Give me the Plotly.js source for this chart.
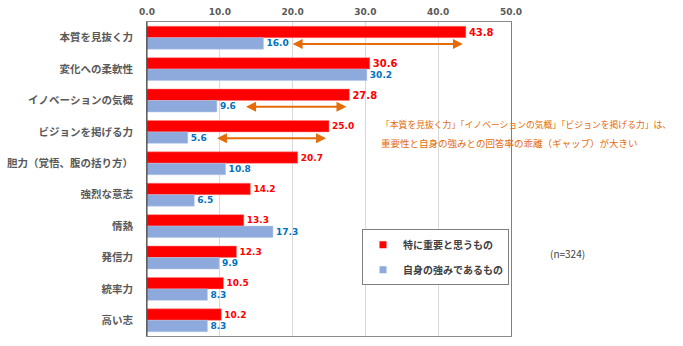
<!DOCTYPE html>
<html><head><meta charset="utf-8">
<script src="https://cdn.plot.ly/plotly-3.0.1.min.js"></script>
<style>html,body{margin:0;padding:0;background:#fff}#c{width:683px;height:346px}</style>
</head><body><div id="c"></div>
<script>
const categories = ['本質を見抜く力','変化への柔軟性','イノベーションの気概','ビジョンを掲げる力','胆力（覚悟、腹の括り方）','強烈な意志','情熱','発信力','統率力','高い志'];
const importantValues = [43.8,30.6,27.8,25.0,20.7,14.2,13.3,12.3,10.5,10.2];
const strengthValues = [16.0,30.2,9.6,5.6,10.8,6.5,17.3,9.9,8.3,8.3];
const seriesNames = ['特に重要と思うもの','自身の強みであるもの'];
const gapItems = ['本質を見抜く力','イノベーションの気概','ビジョンを掲げる力'];
const xTicks = [0,10,20,30,40,50];
const noteLines = ['「本質を見抜く力」「イノベーションの気概」「ビジョンを掲げる力」は、','重要性と自身の強みとの回答率の乖離（ギャップ）が大きい'];
const sampleNote = '(n=324)';

const RED = '#FF0000', BLUE = '#8EA9DB', ORANGE = '#E46C0A';
const jp = '"Noto Sans CJK JP", "Noto Sans", sans-serif';
const num = '"DejaVu Sans", Verdana, sans-serif';

const redSizes = importantValues.map((v,i)=> i<3 ? 10.5 : 9);

const traces = [
  {type:'bar', orientation:'h', y:categories, x:importantValues, name:seriesNames[0], showlegend:false,
   marker:{color:RED, line:{color:'#FF8080', width:0.5}},
   text:importantValues.map(v=>v.toFixed(1)), textposition:'outside', cliponaxis:false,
   textfont:{family:num, size:redSizes, color:RED, weight:'bold'}, hoverinfo:'skip'},
  {type:'bar', orientation:'h', y:categories, x:strengthValues, name:seriesNames[1], showlegend:false,
   marker:{color:BLUE, line:{color:'#B4C7E7', width:0.5}},
   text:strengthValues.map(v=>v.toFixed(1)), textposition:'outside', cliponaxis:false,
   textfont:{family:num, size:9, color:'#0070C0', weight:'bold'}, hoverinfo:'skip'},
  {type:'scatter', mode:'markers', x:[null], y:[null], name:seriesNames[0], legendgroup:'a',
   marker:{symbol:'square', size:7, color:RED}},
  {type:'scatter', mode:'markers', x:[null], y:[null], name:seriesNames[1], legendgroup:'b',
   marker:{symbol:'square', size:7, color:BLUE}}
];

const annotations = [];
gapItems.forEach(name=>{
  const i = categories.indexOf(name);
  const yPos = i + 0.2;
  annotations.push({xref:'x', yref:'y', axref:'x', ayref:'y',
    x: importantValues[i]-0.4, y: yPos, ax: strengthValues[i]+3.8, ay: yPos,
    text:'', showarrow:true, arrowhead:2, startarrowhead:2, arrowside:'end+start',
    arrowsize:1, startarrowsize:1, arrowwidth:2, arrowcolor:ORANGE});
});
annotations.push({xref:'paper', yref:'paper', x:(379-147)/364, y:(337-125)/315, xanchor:'left', yanchor:'middle',
  text:noteLines[0], showarrow:false, font:{family:jp, size:8.8, color:ORANGE}});
annotations.push({xref:'paper', yref:'paper', x:(379-147)/364, y:(337-143)/315, xanchor:'left', yanchor:'middle',
  text:noteLines[1], showarrow:false, font:{family:jp, size:9.5, color:ORANGE}});
annotations.push({xref:'paper', yref:'paper', x:(548-147)/364, y:(337-254)/315, xanchor:'left', yanchor:'middle',
  text:sampleNote, showarrow:false, font:{family:jp, size:10, color:'#404040'}});

const layout = {
  width:683, height:346,
  margin:{l:147, r:172, t:22, b:10, pad:0},
  paper_bgcolor:'#fff', plot_bgcolor:'#fff',
  barmode:'group', bargap:0.27, bargroupgap:0,
  xaxis:{side:'top', range:[0,50], tickvals:xTicks, ticktext:xTicks.map(v=>v.toFixed(1)),
    showgrid:true, gridcolor:'#D9D9D9', gridwidth:1, zeroline:false,
    showline:true, mirror:true, linecolor:'#8C8C8C', linewidth:1, ticks:'', ticklabelstandoff:2,
    tickfont:{family:num, size:9, color:'#595959', weight:'bold'}, fixedrange:true},
  yaxis:{type:'category', categoryarray:categories, range:[9.5,-0.5], autorange:false,
    showgrid:false, zeroline:false, showline:true, mirror:true, linecolor:'#7F7F7F', linewidth:1,
    ticks:'', ticklabelstandoff:11,
    tickfont:{family:jp, size:10.5, color:'#595959', weight:'bold'}, fixedrange:true},
  legend:{x:(362-147)/364, y:(337-230)/315, xanchor:'left', yanchor:'top',
    bgcolor:'#fff', bordercolor:'#7F7F7F', borderwidth:1,
    font:{family:jp, size:10, color:'#404040', weight:'bold'},
    traceorder:'grouped', tracegroupgap:6, itemwidth:30},
  annotations:annotations,
  shapes:[{type:'line', xref:'paper', yref:'paper', x0:0, x1:0, y0:0, y1:1, line:{color:'#404040', width:1}}],
  showlegend:true
};

Plotly.newPlot('c', traces, layout, {displayModeBar:false, staticPlot:true});
</script></body></html>
